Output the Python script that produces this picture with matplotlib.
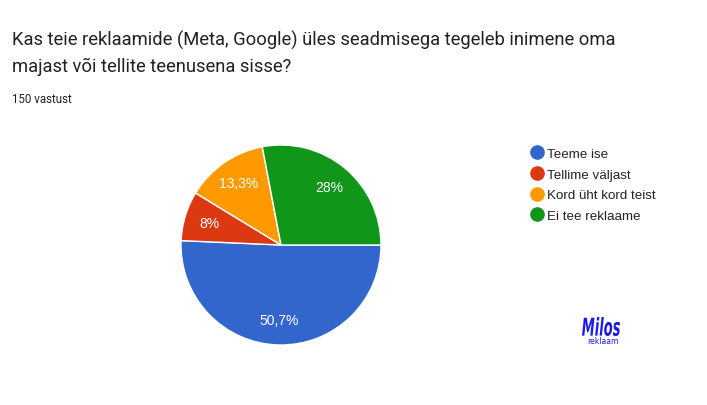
import matplotlib.pyplot as plt
from matplotlib.lines import Line2D
from matplotlib.textpath import TextPath
from matplotlib.patches import PathPatch
from matplotlib.font_manager import FontProperties
from matplotlib.transforms import Affine2D, IdentityTransform
import numpy as np

# データ
labels = ["Teeme ise", "Tellime väljast", "Kord üht kord teist", "Ei tee reklaame"]
values = [50.7, 8.0, 13.3, 28.0]
pct_text = ["50,7%", "8%", "13,3%", "28%"]
colors = ["#3366cc", "#dc3912", "#ff9900", "#109618"]

title = "Kas teie reklaamide (Meta, Google) üles seadmisega tegeleb inimene oma\nmajast või tellite teenusena sisse?"
subtitle = "150 vastust"

W, H = 707, 406
fig = plt.figure(figsize=(W / 100, H / 100), dpi=100)
fig.patch.set_facecolor("white")

# タイトル
fig.text(12 / W, 1 - 31 / H, title, fontsize=13.2, family="Roboto", color="#202124",
         va="top", ha="left", linespacing=1.55)
fig.text(12 / W, 1 - 93 / H, subtitle, fontsize=8.3, family="Roboto", color="#202124",
         va="top", ha="left")

# 円グラフ
cx, cy, r = 281, 246, 100
ax = fig.add_axes([(cx - r) / W, (H - cy - r) / H, 2 * r / W, 2 * r / H])
wedges, _ = ax.pie(values, colors=colors, startangle=0, counterclock=False, radius=1,
                   wedgeprops=dict(edgecolor="white", linewidth=1))
ax.set_xlim(-1, 1)
ax.set_ylim(-1, 1)
ax.set_aspect("equal")
ax.axis("off")

for w, t in zip(wedges, pct_text):
    ang = np.deg2rad((w.theta1 + w.theta2) / 2)
    ax.text(0.75 * np.cos(ang), 0.75 * np.sin(ang), t, ha="center", va="center",
            color="white", fontsize=10, family="Liberation Sans")

# 凡例
handles = [Line2D([], [], marker="o", ls="", color=c, markersize=9.5) for c in colors]
leg = fig.legend(handles, labels, loc="upper left", bbox_to_anchor=(524 / W, 1 - 142 / H),
                 frameon=False, prop=dict(family="Liberation Sans", size=9.6),
                 labelspacing=0.62, handletextpad=0.2, handlelength=1.0, borderpad=0)
for t in leg.get_texts():
    t.set_color("#222222")

# ロゴ（細長く変形した文字）
logo_blue = "#1a1aee"
tp = TextPath((0, 0), "Milos", size=20,
              prop=FontProperties(family="DejaVu Sans", weight="bold", style="italic"))
ext = tp.get_extents()
sx = 38 / ext.width
sy = 19 / ext.height
tr = Affine2D().translate(-ext.x0, -ext.y0).scale(sx, sy).translate(582, H - 337)
fig.patches.append(PathPatch(tr.transform_path(tp), facecolor=logo_blue, edgecolor="none",
                             transform=IdentityTransform(), figure=fig))
fig.text(603 / W, 1 - 342 / H, "reklaam", fontsize=5.5, color=logo_blue,
         ha="center", va="center", family="DejaVu Sans")

fig.savefig("out.png", dpi=100)
